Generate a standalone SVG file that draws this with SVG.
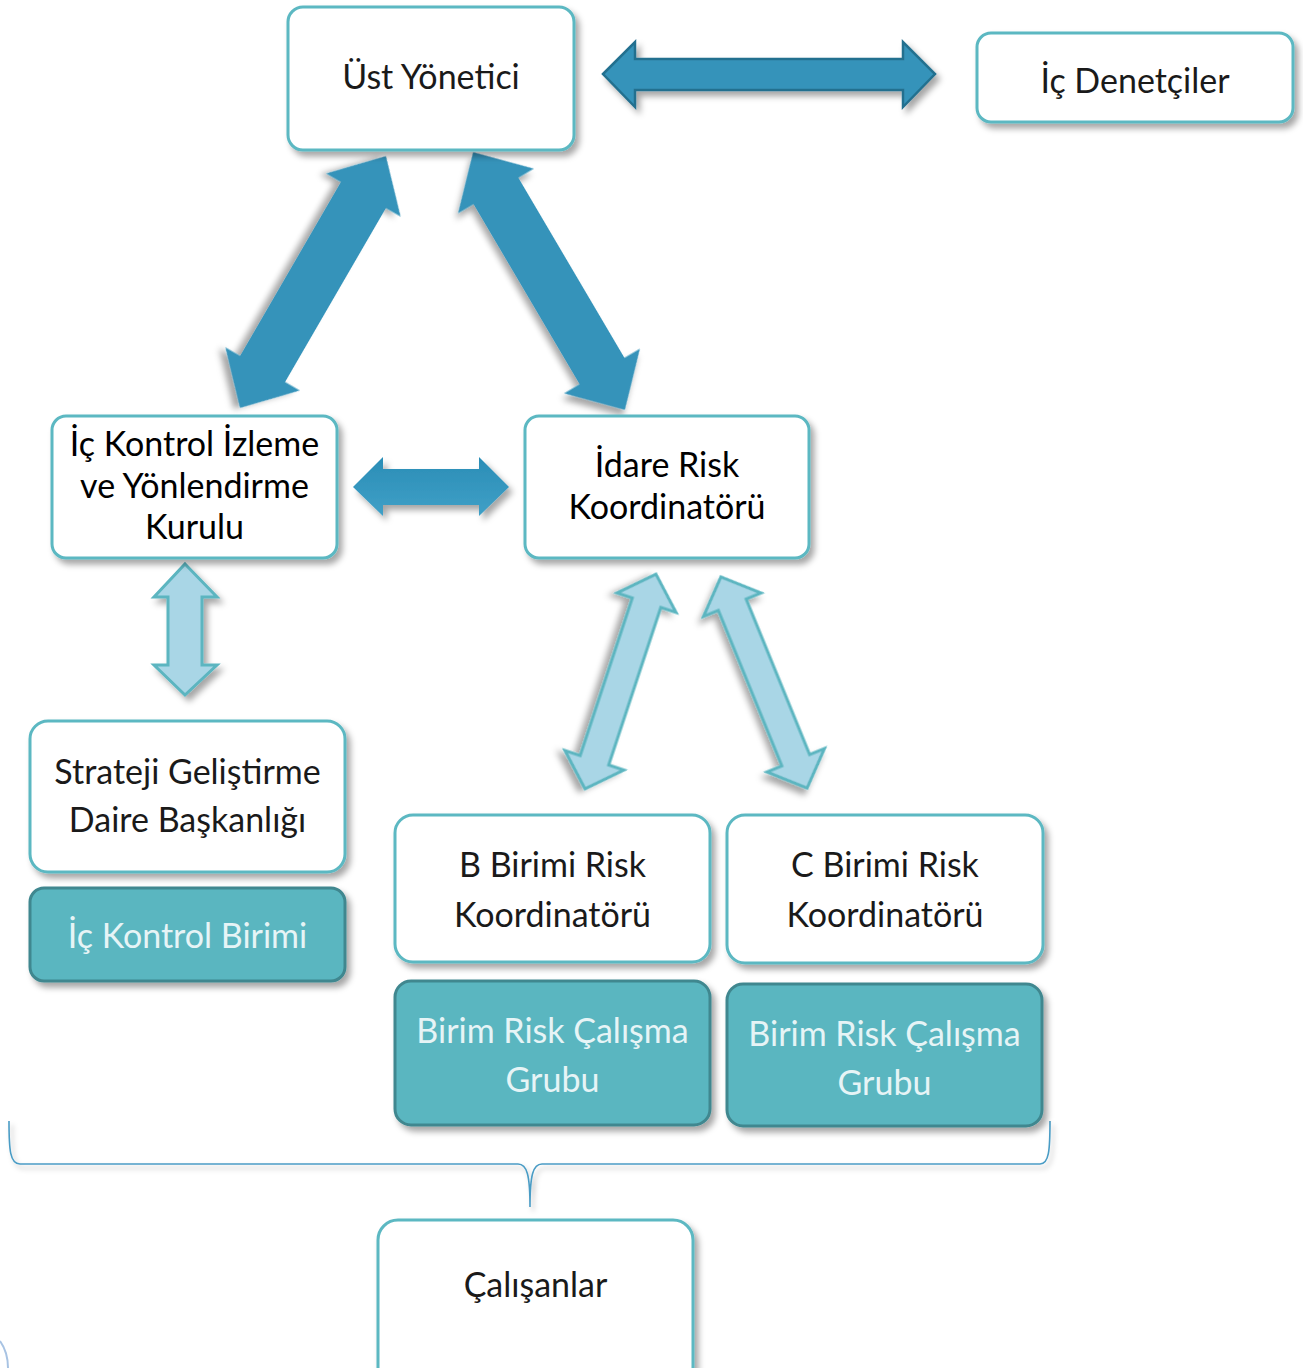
<svg xmlns="http://www.w3.org/2000/svg" width="1303" height="1368" viewBox="0 0 1303 1368">
  <defs>
    <filter id="shadow" x="-20%" y="-20%" width="150%" height="150%">
      <feDropShadow dx="4" dy="5" stdDeviation="3" flood-color="#000" flood-opacity="0.35"/>
    </filter>
    <filter id="softShadow" x="-20%" y="-20%" width="150%" height="150%">
      <feDropShadow dx="3" dy="4" stdDeviation="2.5" flood-color="#000" flood-opacity="0.25"/>
    </filter>
    <linearGradient id="midArrow" x1="0" y1="0" x2="0" y2="1">
      <stop offset="0" stop-color="#2A8DB6"/>
      <stop offset="1" stop-color="#40A0C7"/>
    </linearGradient>
    <style>
      .box { fill: #FFFFFF; stroke: #5BB8C2; stroke-width: 3; filter: url(#shadow); }
      .fillbox { fill: #5AB6C0; stroke: #3F878F; stroke-width: 3; filter: url(#shadow); }
      .lbl { font-family: Lato, "Open Sans", "DejaVu Sans", sans-serif; font-size: 34px; fill: #1A1A1A; text-anchor: middle; font-weight: 400; }
      .lbl.strong { fill: #000000; }
      .lbl.light { fill: #E6F4F6; }
      .darkArrow { fill: #3493BA; filter: url(#shadow); }
      .lightArrow { fill: #A9D6E6; stroke: #5BB5C0; stroke-width: 3; stroke-linejoin: miter; filter: url(#shadow); }
      .brace { fill: none; stroke: #4A9CC5; stroke-width: 1.6; filter: url(#softShadow); }
    </style>
  </defs>

  <rect width="1303" height="1368" fill="#FFFFFF"/>

  <!-- connectors -->
  <g id="connectors">
    <!-- Üst Yönetici <-> İç Denetçiler -->
    <polygon class="darkArrow" stroke="#24708F" stroke-width="2.5" points="603,74 635,42 635,59 903,59 903,42 935,74 903,107 903,90 635,90 635,107"/>
    <!-- Üst Yönetici <-> İç Kontrol İzleme ve Yönlendirme Kurulu -->
    <polygon class="darkArrow" transform="translate(313,282) rotate(120.1)" points="-145.5,0 -100.5,-43 -100.5,-26 100.5,-26 100.5,-43 145.5,0 100.5,43 100.5,26 -100.5,26 -100.5,43"/>
    <!-- Üst Yönetici <-> İdare Risk Koordinatörü -->
    <polygon class="darkArrow" transform="translate(549,281) rotate(59.5)" points="-149.5,0 -104.5,-44 -104.5,-26 104.5,-26 104.5,-44 149.5,0 104.5,44 104.5,26 -104.5,26 -104.5,44"/>
    <!-- Kurul <-> İdare Risk Koordinatörü -->
    <polygon fill="url(#midArrow)" filter="url(#shadow)" points="353,487 383,457 383,469 479,469 479,457 509,487 479,516 479,505 383,505 383,516"/>
    <!-- Kurul <-> Strateji Geliştirme -->
    <polygon class="lightArrow" points="185,564 217,597 202,597 202,665 217,665 185,695 154,665 168,665 168,597 154,597"/>
    <!-- İdare Risk Koordinatörü <-> B Birimi -->
    <polygon class="lightArrow" transform="translate(620.5,681.5) rotate(108.3)" points="-113,0 -83,-31 -83,-15 83,-15 83,-31 113,0 83,31 83,15 -83,15 -83,31"/>
    <!-- İdare Risk Koordinatörü <-> C Birimi -->
    <polygon class="lightArrow" transform="translate(764,682.5) rotate(67.8)" points="-114,0 -84,-31 -84,-15 84,-15 84,-31 114,0 84,31 84,15 -84,15 -84,31"/>
    <!-- brace grouping the units above Çalışanlar -->
    <path class="brace" d="M9,1121 C9,1150 10,1164 20,1164 L518,1164 C527,1164 530,1175 530,1207 C530,1175 533,1164 542,1164 L1040,1164 C1049,1164 1050,1150 1050,1121"/>
    <!-- partial circle at the lower left edge -->
    <path d="M0,1341 Q8,1352 8,1368" fill="none" stroke="#A8C3E3" stroke-width="2"/>
  </g>

  <g id="ust-yonetici">
    <rect class="box" x="288" y="7" width="286" height="143" rx="15"/>
    <text class="lbl" x="431" y="89">Üst Yönetici</text>
  </g>

  <g id="ic-denetciler">
    <rect class="box" x="977" y="33" width="316" height="89" rx="14"/>
    <text class="lbl" x="1135" y="93">İç Denetçiler</text>
  </g>

  <g id="ic-kontrol-kurulu">
    <rect class="box" x="52" y="416" width="285" height="142" rx="14"/>
    <text class="lbl strong" x="194.5" y="456">İç Kontrol İzleme</text>
    <text class="lbl strong" x="194.5" y="498">ve Yönlendirme</text>
    <text class="lbl strong" x="194.5" y="539">Kurulu</text>
  </g>

  <g id="idare-risk">
    <rect class="box" x="525" y="416" width="284" height="142" rx="14"/>
    <text class="lbl strong" x="667" y="477">İdare Risk</text>
    <text class="lbl strong" x="667" y="519">Koordinatörü</text>
  </g>

  <g id="strateji">
    <rect class="box" x="30" y="721" width="315" height="151" rx="18"/>
    <text class="lbl" x="187.5" y="784">Strateji Geliştirme</text>
    <text class="lbl" x="187.5" y="832">Daire Başkanlığı</text>
  </g>

  <g id="ic-kontrol-birimi">
    <rect class="fillbox" x="30" y="888" width="315" height="93" rx="14"/>
    <text class="lbl light" x="187.5" y="948">İç Kontrol Birimi</text>
  </g>

  <g id="b-birimi">
    <rect class="box" x="395" y="815" width="315" height="147" rx="18"/>
    <text class="lbl" x="552.5" y="877">B Birimi Risk</text>
    <text class="lbl" x="552.5" y="927">Koordinatörü</text>
  </g>

  <g id="c-birimi">
    <rect class="box" x="727" y="815" width="316" height="148" rx="18"/>
    <text class="lbl" x="885" y="877">C Birimi Risk</text>
    <text class="lbl" x="885" y="927">Koordinatörü</text>
  </g>

  <g id="b-calisma-grubu">
    <rect class="fillbox" x="395" y="981" width="315" height="144" rx="16"/>
    <text class="lbl light" x="552.5" y="1043">Birim Risk Çalışma</text>
    <text class="lbl light" x="552.5" y="1092">Grubu</text>
  </g>

  <g id="c-calisma-grubu">
    <rect class="fillbox" x="727" y="984" width="315" height="142" rx="16"/>
    <text class="lbl light" x="884.5" y="1046">Birim Risk Çalışma</text>
    <text class="lbl light" x="884.5" y="1095">Grubu</text>
  </g>

  <g id="calisanlar">
    <rect class="box" x="378" y="1220" width="315" height="170" rx="20"/>
    <text class="lbl" x="535.5" y="1297">Çalışanlar</text>
  </g>
</svg>
